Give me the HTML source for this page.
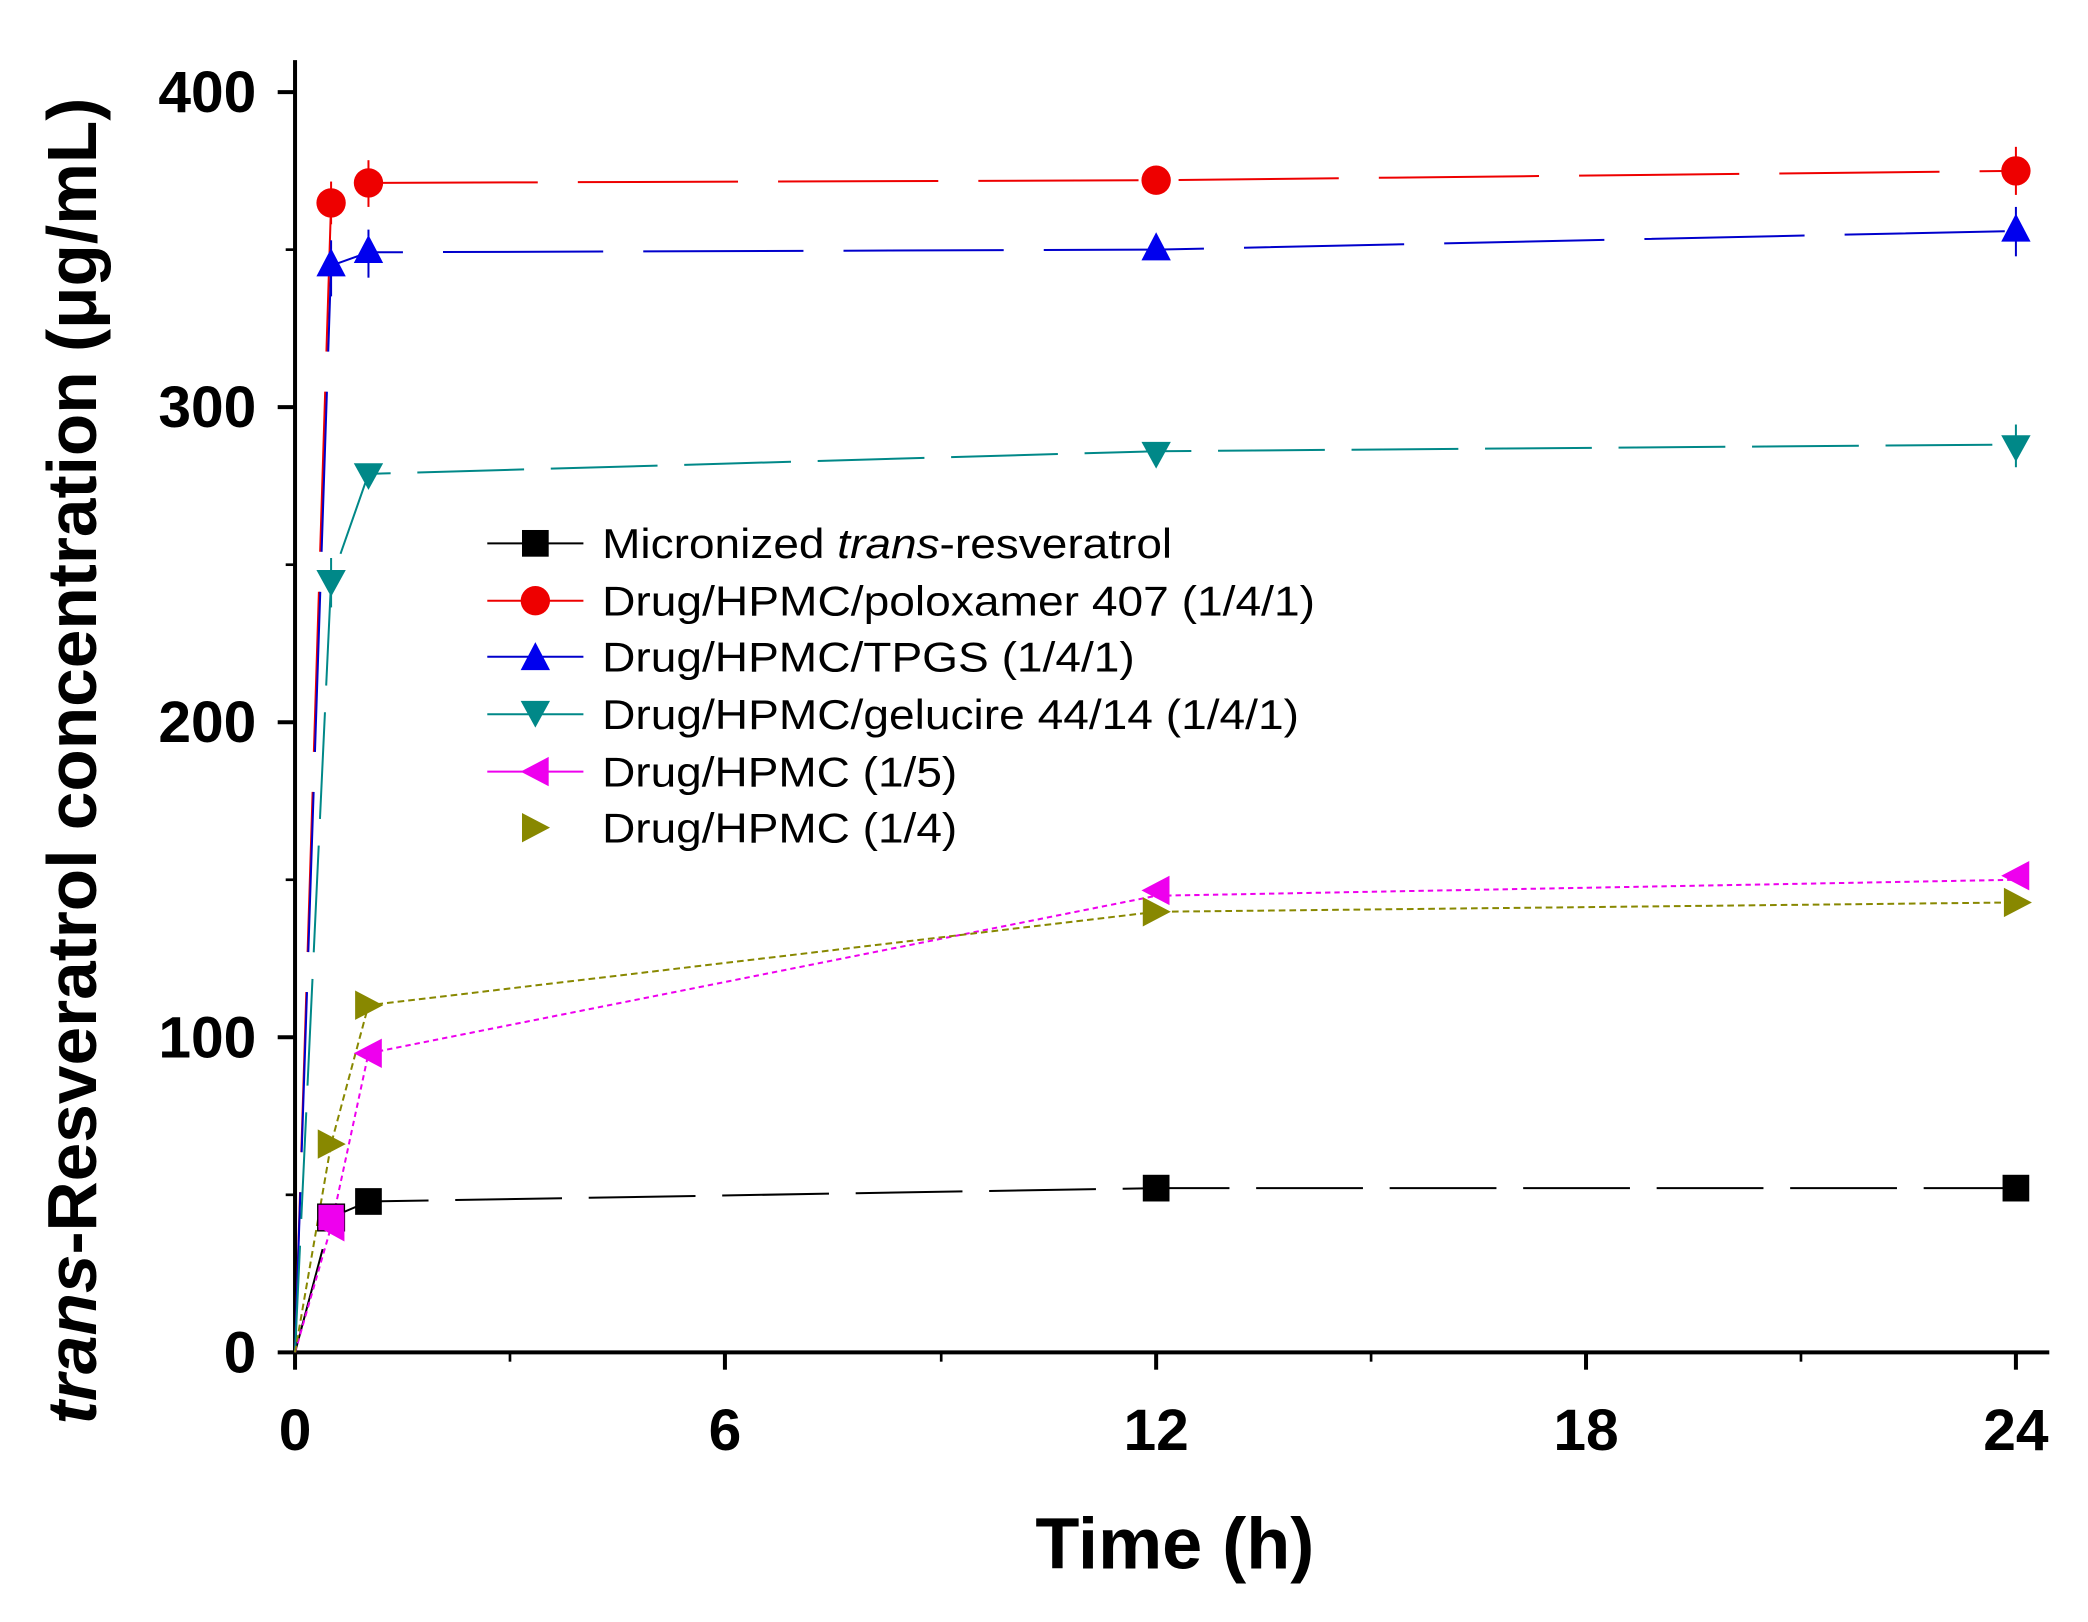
<!DOCTYPE html>
<html><head><meta charset="utf-8"><style>html,body{margin:0;padding:0;background:#fff}svg{display:block}</style></head>
<body>
<svg width="2088" height="1622" viewBox="0 0 1564 1215" preserveAspectRatio="none" xmlns="http://www.w3.org/2000/svg" font-family="Liberation Sans, Arial, sans-serif">
<rect width="1564" height="1215" fill="#fff"/>
<g stroke="#000" stroke-width="3" fill="none">
<line x1="221" y1="45" x2="221" y2="1013"/>
<line x1="221" y1="1013" x2="1535" y2="1013"/>
<line x1="221" y1="1013" x2="221" y2="1026"/>
<line x1="543" y1="1013" x2="543" y2="1026"/>
<line x1="866" y1="1013" x2="866" y2="1026"/>
<line x1="1188" y1="1013" x2="1188" y2="1026"/>
<line x1="1510" y1="1013" x2="1510" y2="1026"/>
<line x1="382" y1="1013" x2="382" y2="1020" stroke-width="2"/>
<line x1="705" y1="1013" x2="705" y2="1020" stroke-width="2"/>
<line x1="1027" y1="1013" x2="1027" y2="1020" stroke-width="2"/>
<line x1="1349" y1="1013" x2="1349" y2="1020" stroke-width="2"/>
<line x1="208" y1="1013" x2="221" y2="1013"/>
<line x1="208" y1="777" x2="221" y2="777"/>
<line x1="208" y1="541" x2="221" y2="541"/>
<line x1="208" y1="305" x2="221" y2="305"/>
<line x1="208" y1="69" x2="221" y2="69"/>
<line x1="214" y1="895" x2="221" y2="895" stroke-width="2"/>
<line x1="214" y1="659" x2="221" y2="659" stroke-width="2"/>
<line x1="214" y1="423" x2="221" y2="423" stroke-width="2"/>
<line x1="214" y1="187" x2="221" y2="187" stroke-width="2"/>
</g>
<g font-size="44" font-weight="bold" text-anchor="end">
<text x="192" y="1028">0</text>
<text x="192" y="792">100</text>
<text x="192" y="556">200</text>
<text x="192" y="320">300</text>
<text x="192" y="84">400</text>
</g>
<g font-size="44" font-weight="bold" text-anchor="middle">
<text x="221" y="1086">0</text>
<text x="543" y="1086">6</text>
<text x="866" y="1086">12</text>
<text x="1188" y="1086">18</text>
<text x="1510" y="1086">24</text>
</g>
<text x="880" y="1175" font-size="54" font-weight="bold" text-anchor="middle">Time (h)</text>
<text transform="translate(72,570) rotate(-90)" font-size="52" font-weight="bold" text-anchor="middle"><tspan font-style="italic">trans</tspan>-Resveratrol concentration (μg/mL)</text>

<g fill="none" stroke-width="1.5">
<polyline stroke="#000" stroke-dasharray="80,20" points="221,1013 248,912 276,900 866,890 1510,890"/>
<polyline stroke="#e00" stroke-dasharray="120,30" points="221,1013 248,152 276,137 866,135 1510,128"/>
<polyline stroke="#00c" stroke-dasharray="120,30" points="221,1013 248,199 276,189 866,187 1510,173"/>
<polyline stroke="#088" stroke-dasharray="80,20" points="221,1013 248,435 276,355 866,338 1510,333"/>
<polyline stroke="#e0e" stroke-dasharray="4,3" points="221,1013 248,919 276,789 866,671 1510,659"/>
<polyline stroke="#880" stroke-dasharray="5,3" points="221,1013 248,857 276,753 866,683 1510,676"/>
</g>
<g stroke-width="1.5">
<g stroke="#e00"><line x1="276" y1="120" x2="276" y2="155"/><line x1="1510" y1="110" x2="1510" y2="146"/><line x1="248" y1="136" x2="248" y2="168"/></g>
<g stroke="#00c"><line x1="248" y1="180" x2="248" y2="222"/><line x1="276" y1="172" x2="276" y2="208"/><line x1="1510" y1="155" x2="1510" y2="192"/></g>
<g stroke="#088"><line x1="248" y1="418" x2="248" y2="455"/><line x1="1510" y1="318" x2="1510" y2="350"/></g>
</g>
<g fill="#000"><rect x="238" y="902" width="20" height="20" fill="#e0e" stroke="#000"/><rect x="266" y="890" width="20" height="20"/><rect x="856" y="880" width="20" height="20"/><rect x="1500" y="880" width="20" height="20"/></g>
<g fill="#e00"><circle cx="248" cy="152" r="11"/><circle cx="276" cy="137" r="11"/><circle cx="866" cy="135" r="11"/><circle cx="1510" cy="128" r="11"/></g>
<g fill="#00e">
<polygon points="248,186 237,207 259,207"/><polygon points="276,176 265,197 287,197"/><polygon points="866,174 855,195 877,195"/><polygon points="1510,160 1499,181 1521,181"/></g>
<g fill="#088">
<polygon points="237,427 259,427 248,447"/><polygon points="265,347 287,347 276,367"/><polygon points="855,331 877,331 866,351"/><polygon points="1499,326 1521,326 1510,346"/></g>
<g fill="#e0e">
<polygon points="238,919 258,908 258,930"/><polygon points="265,789 286,778 286,800"/><polygon points="855,667 876,656 876,678"/><polygon points="1499,656 1520,645 1520,667"/></g>
<g fill="#880">
<polygon points="259,857 238,846 238,868"/><polygon points="287,753 266,742 266,764"/><polygon points="877,683 856,672 856,694"/><polygon points="1522,676 1501,665 1501,687"/></g>

<g stroke-width="1.5">
<line x1="365" y1="407" x2="437" y2="407" stroke="#000"/>
<line x1="365" y1="450" x2="437" y2="450" stroke="#e00"/>
<line x1="365" y1="492" x2="437" y2="492" stroke="#00c"/>
<line x1="365" y1="535" x2="437" y2="535" stroke="#088"/>
<line x1="365" y1="578" x2="437" y2="578" stroke="#e0e"/>
</g>
<rect x="391" y="397" width="20" height="20" fill="#000"/>
<circle cx="401" cy="450" r="11" fill="#e00"/>
<polygon points="401,481 390,502 412,502" fill="#00e"/>
<polygon points="390,525 412,525 401,545" fill="#088"/>
<polygon points="390,578 411,567 411,589" fill="#e0e"/>
<polygon points="412,620 391,609 391,631" fill="#880"/>
<g font-size="31" fill="#000">
<text x="451" y="418" textLength="427" lengthAdjust="spacingAndGlyphs">Micronized <tspan font-style="italic">trans</tspan>-resveratrol</text>
<text x="451" y="461" textLength="534" lengthAdjust="spacingAndGlyphs">Drug/HPMC/poloxamer 407 (1/4/1)</text>
<text x="451" y="503" textLength="399" lengthAdjust="spacingAndGlyphs">Drug/HPMC/TPGS (1/4/1)</text>
<text x="451" y="546" textLength="522" lengthAdjust="spacingAndGlyphs">Drug/HPMC/gelucire 44/14 (1/4/1)</text>
<text x="451" y="589" textLength="266" lengthAdjust="spacingAndGlyphs">Drug/HPMC (1/5)</text>
<text x="451" y="631" textLength="266" lengthAdjust="spacingAndGlyphs">Drug/HPMC (1/4)</text>
</g>
</svg>
</body></html>
